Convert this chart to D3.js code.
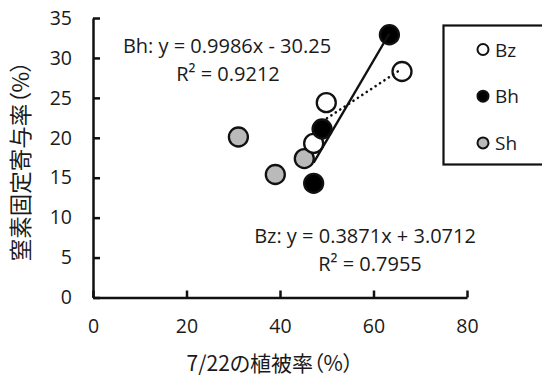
<!DOCTYPE html>
<html>
  <head>
    <meta charset="utf-8">
    <title>植被率と窒素固定寄与率</title>
    <script type="text/javascript" src="https://cdn.jsdelivr.net/npm/d3@7"></script>
    <style>
      body { margin: 0; background: #fff; }
      svg text { font-family: "Open Sans", "Noto Sans CJK JP", sans-serif; fill: #1a1a1a; }
      .jp { font-family: "Noto Sans CJK JP", sans-serif; font-feature-settings: "palt"; }
      .axis path, .axis line { stroke: #111; stroke-width: 2.5; }
    </style>
  </head>
  <body>
    <script>

// size of the svg box
var w = 542;
var h = 376;

// data: x = 7/22 vegetation cover (%), y = N fixation share (%)
var bzX = [66.1, 49.9, 47.2];
var bzY = [28.3, 24.4, 19.3];
var bhX = [63.4, 49.0, 47.2];
var bhY = [32.9, 21.1, 14.3];
var shX = [31.1, 39.0, 45.2];
var shY = [20.1, 15.4, 17.4];

// trend lines (slope, intercept) as printed on the chart
var bzFit = [0.3871, 3.0712];
var bhFit = [0.9986, -30.25];

var xTicks = [0, 20, 40, 60, 80];
var yTicks = [0, 5, 10, 15, 20, 25, 30, 35];

var seriesNames = ["Bz", "Bh", "Sh"];
var seriesFill = { Bz: "#ffffff", Bh: "#000000", Sh: "#bababa" };

var svg = d3.select("body")
  .append("svg")
  .attr("width", w)
  .attr("height", h);

// scales
var xScale = d3.scaleLinear()
  .domain([0, 80])
  .range([93, 467]);

var yScale = d3.scaleLinear()
  .domain([0, 35])
  .range([297.5, 18]);

// axes, ticks point inwards
var xAxis = d3.axisBottom(xScale)
  .tickValues(xTicks)
  .tickSizeInner(-7)
  .tickSizeOuter(0)
  .tickPadding(22);

var yAxis = d3.axisLeft(yScale)
  .tickValues(yTicks)
  .tickSizeInner(-7)
  .tickSizeOuter(0)
  .tickPadding(21);

svg.append("g")
  .attr("class", "axis")
  .attr("transform", "translate(0," + yScale(0) + ")")
  .call(xAxis);

svg.append("g")
  .attr("class", "axis")
  .attr("transform", "translate(" + xScale(0) + ",0)")
  .call(yAxis);

svg.selectAll(".axis text")
  .attr("font-size", "19.5px")
  .attr("fill", "#1a1a1a");

// helper to turn two arrays into points
function pts(xs, ys) {
  return xs.map(function(d, i) { return [d, ys[i]]; });
}

function drawCircles(xs, ys, name) {
  svg.append("g")
    .selectAll("circle")
    .data(pts(xs, ys))
    .enter()
    .append("circle")
    .attr("cx", function(d) { return xScale(d[0]); })
    .attr("cy", function(d) { return yScale(d[1]); })
    .attr("r", 9.5)
    .attr("fill", seriesFill[name])
    .attr("stroke", "#111")
    .attr("stroke-width", 2.3);
}

function drawTrend(xs, fit, dotted) {
  var x0 = d3.min(xs);
  var x1 = d3.max(xs);
  var line = svg.append("line")
    .attr("x1", xScale(x0))
    .attr("y1", yScale(fit[0] * x0 + fit[1]))
    .attr("x2", xScale(x1))
    .attr("y2", yScale(fit[0] * x1 + fit[1]))
    .attr("stroke", "#111");
  if (dotted) {
    line.attr("stroke-width", 2.6)
      .attr("stroke-linecap", "round")
      .attr("stroke-dasharray", "0.1,5.2");
  } else {
    line.attr("stroke-width", 2.4);
  }
}

// draw order: Sh, Bz, Bz trend, Bh, Bh trend
drawCircles(shX, shY, "Sh");
drawCircles(bzX, bzY, "Bz");
drawTrend(bzX, bzFit, true);
drawCircles(bhX, bhY, "Bh");
drawTrend(bhX, bhFit, false);

// equation labels
svg.append("text")
  .attr("x", 227)
  .attr("y", 53)
  .attr("text-anchor", "middle")
  .attr("font-size", "20px")
  .text("Bh: y = 0.9986x - 30.25");
svg.append("text")
  .attr("x", 228)
  .attr("y", 81)
  .attr("text-anchor", "middle")
  .attr("font-size", "20px")
  .text("R² = 0.9212");
svg.append("text")
  .attr("x", 365)
  .attr("y", 243)
  .attr("text-anchor", "middle")
  .attr("font-size", "20px")
  .text("Bz: y = 0.3871x + 3.0712");
svg.append("text")
  .attr("x", 370)
  .attr("y", 270.5)
  .attr("text-anchor", "middle")
  .attr("font-size", "20px")
  .text("R² = 0.7955");

// axis titles
svg.append("text")
  .attr("class", "jp")
  .attr("x", 270)
  .attr("y", 371)
  .attr("text-anchor", "middle")
  .attr("font-size", "21px")
  .text("7/22の植被率（%）");

svg.append("text")
  .attr("class", "jp")
  .attr("transform", "translate(29,161) rotate(-90)")
  .attr("text-anchor", "middle")
  .attr("font-size", "22.5px")
  .text("窒素固定寄与率（%）");

// legend box runs off the right edge
svg.append("rect")
  .attr("x", 443.5)
  .attr("y", 25.5)
  .attr("width", 120)
  .attr("height", 139)
  .attr("fill", "#fff")
  .attr("stroke", "#111")
  .attr("stroke-width", 2.2);

var legend = svg.selectAll(".legend")
  .data(seriesNames)
  .enter()
  .append("g")
  .attr("class", "legend")
  .attr("transform", function(d, i) { return "translate(483," + (49.5 + i * 46.7) + ")"; });

legend.append("circle")
  .attr("r", 5.5)
  .attr("fill", function(d) { return seriesFill[d]; })
  .attr("stroke", "#111")
  .attr("stroke-width", 2);

legend.append("text")
  .attr("x", 12)
  .attr("y", 7)
  .attr("font-size", "19px")
  .text(function(d) { return d; });

    </script>
  </body>
</html>
